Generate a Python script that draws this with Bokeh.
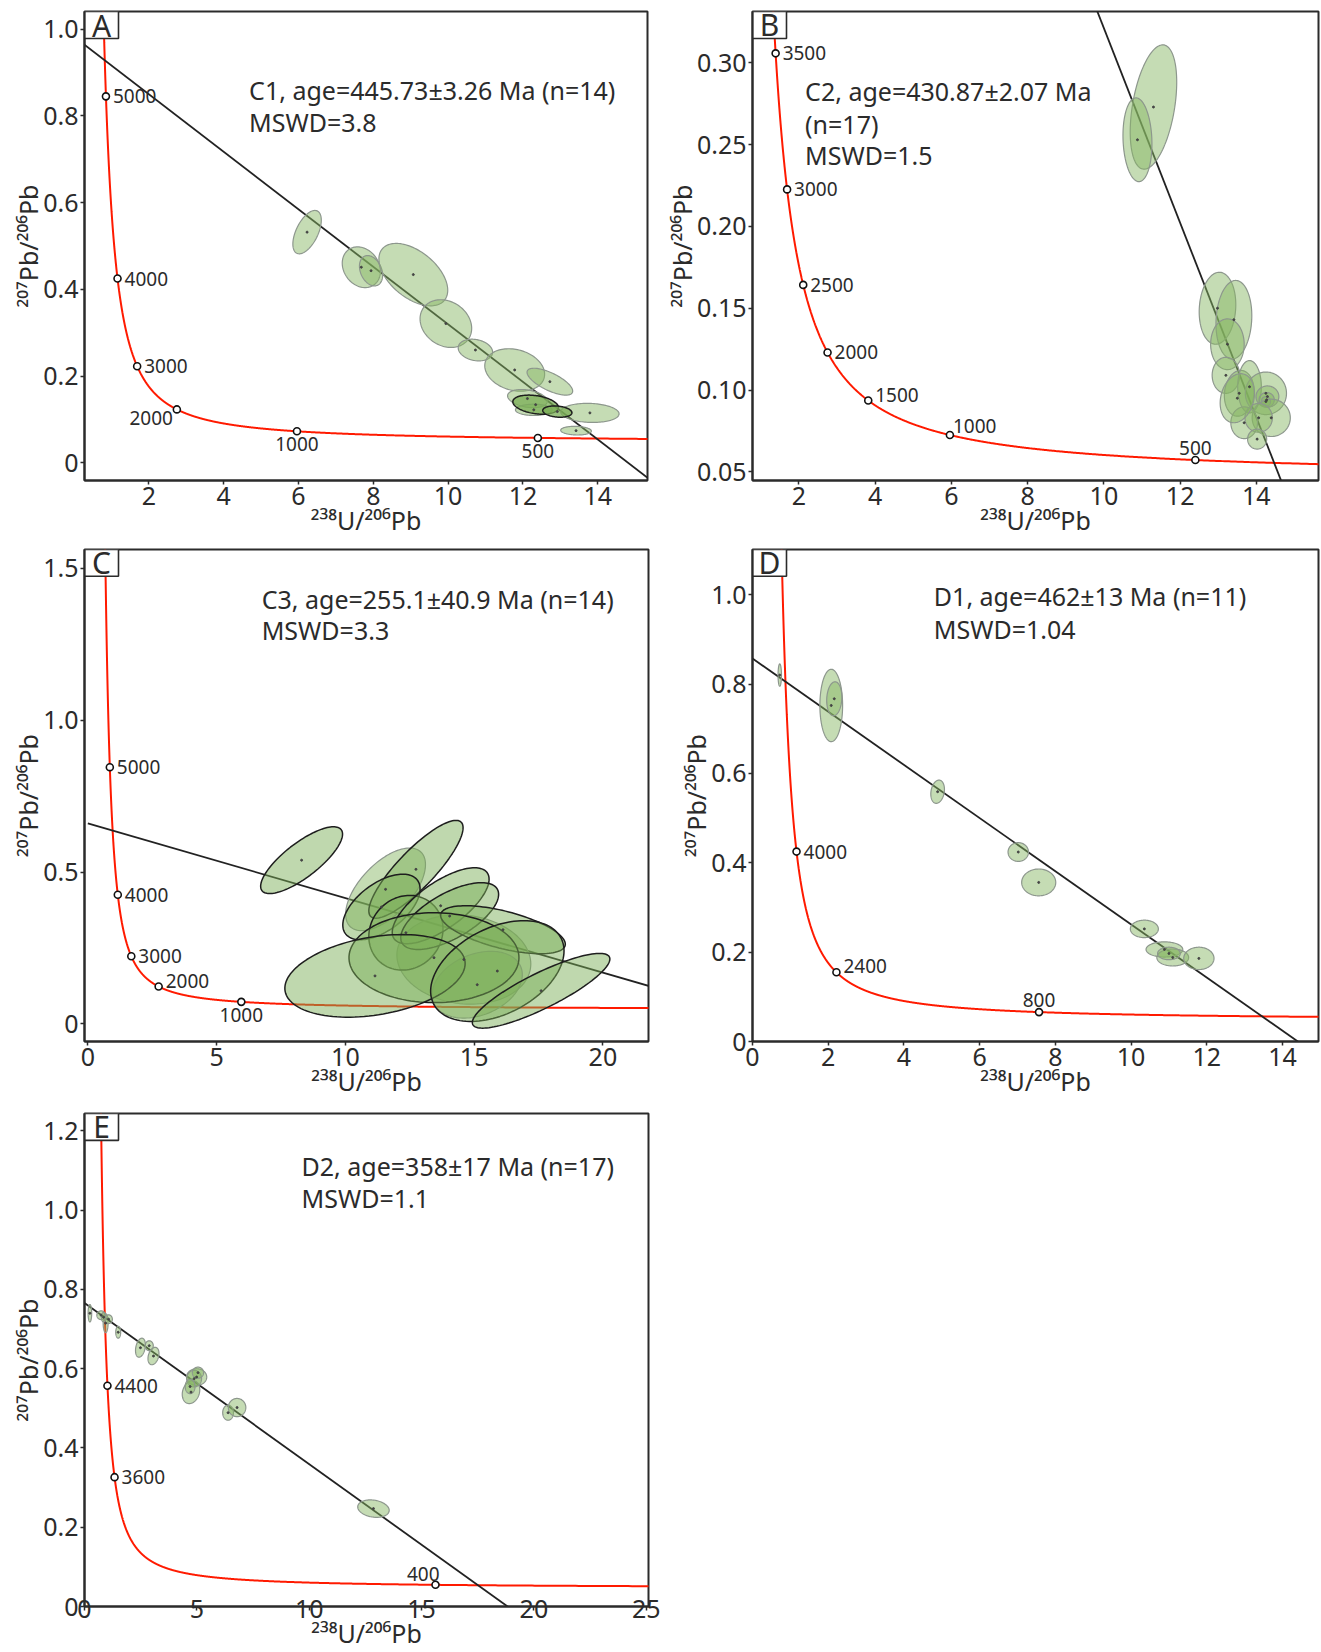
import numpy as np
from bokeh.plotting import figure
from bokeh.layouts import row, column
from bokeh.models import FixedTicker, ColumnDataSource
from bokeh.embed import file_html
from bokeh.resources import INLINE
from bokeh.core.properties import value

# Decay constants (per Myr) and present-day 238U/235U
LAMBDA_238 = 1.55125e-4
LAMBDA_235 = 9.8485e-4
U238_U235 = 137.88

# ---------------- Panel A : C1 ----------------
A_x = [6.23, 7.68, 7.94, 9.07, 9.94, 10.73, 11.78, 12.72, 12.12, 12.34, 12.29, 12.92, 13.79, 13.42]
A_y = [0.532, 0.451, 0.443, 0.434, 0.321, 0.260, 0.214, 0.187, 0.148, 0.134, 0.122, 0.118, 0.115, 0.074]
A_ex = [0.38, 0.51, 0.31, 0.92, 0.69, 0.46, 0.80, 0.61, 0.53, 0.61, 0.49, 0.39, 0.78, 0.41]
A_ey = [0.050, 0.047, 0.035, 0.072, 0.055, 0.025, 0.049, 0.031, 0.021, 0.022, 0.013, 0.013, 0.022, 0.010]
A_rho = [0.55, -0.2, -0.3, -0.5, -0.2, -0.2, -0.2, -0.7, -0.3, -0.3, 0.0, -0.2, -0.1, -0.1]
A_ages = [5000, 4000, 3000, 2000, 1000, 500]
A_age = 445.73
A_y0 = 0.983
A_text = ["C1, age=445.73±3.26 Ma (n=14)", "MSWD=3.8"]
A_xticks = [2, 4, 6, 8, 10, 12, 14]
A_xlabels = ["2", "4", "6", "8", "10", "12", "14"]
A_yticks = [0, 0.2, 0.4, 0.6, 0.8, 1.0]
A_ylabels = ["0", "0.2", "0.4", "0.6", "0.8", "1.0"]

# ---------------- Panel B : C2 ----------------
B_x = [11.30, 10.88, 12.98, 13.41, 13.24, 13.20, 13.55, 13.82, 14.25, 14.29, 14.27, 14.25, 14.39, 13.68, 14.06, 14.02, 13.50]
B_y = [0.273, 0.253, 0.150, 0.143, 0.128, 0.109, 0.098, 0.102, 0.098, 0.096, 0.094, 0.093, 0.083, 0.080, 0.083, 0.070, 0.095]
B_ex = [0.61, 0.38, 0.48, 0.47, 0.44, 0.36, 0.39, 0.31, 0.54, 0.30, 0.20, 0.12, 0.50, 0.35, 0.36, 0.25, 0.45]
B_ey = [0.038, 0.0256, 0.022, 0.024, 0.0155, 0.011, 0.014, 0.016, 0.013, 0.0065, 0.0045, 0.003, 0.0114, 0.0097, 0.0088, 0.0061, 0.015]
B_rho = [0.4, -0.1, 0.1, 0.1, 0.0, 0.0, 0.1, 0.0, 0.0, 0.0, 0.0, 0.0, 0.0, 0.0, 0.0, 0.0, 0.2]
B_ages = [3500, 3000, 2500, 2000, 1500, 1000, 500]
B_age = 430.87
B_y0 = 0.916
B_text = ["C2, age=430.87±2.07 Ma", "(n=17)", "MSWD=1.5"]
B_xticks = [2, 4, 6, 8, 10, 12, 14]
B_xlabels = ["2", "4", "6", "8", "10", "12", "14"]
B_yticks = [0.05, 0.10, 0.15, 0.20, 0.25, 0.30]
B_ylabels = ["0.05", "0.10", "0.15", "0.20", "0.25", "0.30"]

# ---------------- Panel C : C3 ----------------
C_x = [8.30, 12.74, 11.56, 11.40, 12.35, 13.70, 14.05, 16.12, 13.44, 14.60, 11.15, 15.90, 17.60, 15.12]
C_y = [0.539, 0.509, 0.443, 0.385, 0.300, 0.389, 0.355, 0.310, 0.218, 0.212, 0.158, 0.174, 0.109, 0.129]
C_ex = [1.59, 1.83, 1.55, 1.50, 1.44, 1.88, 1.90, 2.42, 3.30, 2.60, 3.50, 2.59, 2.67, 1.75]
C_ey = [0.110, 0.161, 0.136, 0.108, 0.123, 0.125, 0.110, 0.079, 0.148, 0.147, 0.136, 0.166, 0.123, 0.110]
C_rho = [0.78, 0.85, 0.6, 0.55, 0.1, 0.7, 0.65, -0.6, 0.0, -0.1, 0.3, 0.4, 0.85, 0.3]
C_ages = [5000, 4000, 3000, 2000, 1000]
C_age = 255.1
C_y0 = 0.660
C_text = ["C3, age=255.1±40.9 Ma (n=14)", "MSWD=3.3"]
C_xticks = [0, 5, 10, 15, 20]
C_xlabels = ["0", "5", "10", "15", "20"]
C_yticks = [0, 0.5, 1.0, 1.5]
C_ylabels = ["0", "0.5", "1.0", "1.5"]

# ---------------- Panel D : D1 ----------------
D_x = [0.72, 2.08, 2.16, 4.89, 7.02, 7.56, 10.35, 10.88, 11.10, 11.79, 11.00]
D_y = [0.820, 0.752, 0.767, 0.559, 0.424, 0.356, 0.252, 0.206, 0.188, 0.186, 0.197]
D_ex = [0.045, 0.30, 0.20, 0.18, 0.27, 0.45, 0.37, 0.485, 0.42, 0.40, 0.30]
D_ey = [0.025, 0.081, 0.038, 0.026, 0.021, 0.030, 0.0195, 0.017, 0.019, 0.025, 0.014]
D_rho = [0.0, 0.0, 0.1, 0.2, 0.0, 0.0, 0.0, 0.0, 0.0, 0.0, 0.0]
D_ages = [4000, 2400, 800]
D_age = 462
D_y0 = 0.857
D_text = ["D1, age=462±13 Ma (n=11)", "MSWD=1.04"]
D_xticks = [0, 2, 4, 6, 8, 10, 12, 14]
D_xlabels = ["0", "2", "4", "6", "8", "10", "12", "14"]
D_yticks = [0, 0.2, 0.4, 0.6, 0.8, 1.0]
D_ylabels = ["0", "0.2", "0.4", "0.6", "0.8", "1.0"]

# ---------------- Panel E : D2 ----------------
E_x = [0.24, 0.74, 0.94, 1.07, 1.50, 2.49, 2.88, 3.07, 4.99, 4.74, 4.88, 6.39, 6.79, 12.86, 5.05, 0.85, 4.70]
E_y = [0.740, 0.735, 0.715, 0.725, 0.692, 0.653, 0.658, 0.632, 0.579, 0.541, 0.575, 0.489, 0.502, 0.247, 0.590, 0.730, 0.555]
E_ex = [0.08, 0.19, 0.11, 0.17, 0.11, 0.22, 0.18, 0.245, 0.45, 0.39, 0.33, 0.24, 0.39, 0.70, 0.25, 0.10, 0.22]
E_ey = [0.022, 0.011, 0.024, 0.011, 0.015, 0.024, 0.0125, 0.022, 0.021, 0.029, 0.021, 0.019, 0.023, 0.022, 0.014, 0.012, 0.018]
E_rho = [0.0, 0.0, 0.0, 0.0, 0.0, 0.3, 0.0, 0.3, 0.0, 0.2, 0.0, 0.0, 0.0, -0.2, 0.0, 0.0, 0.0]
E_ages = [4400, 3600, 400]
E_age = 358
E_y0 = 0.766
E_text = ["D2, age=358±17 Ma (n=17)", "MSWD=1.1"]
E_xticks = [0, 5, 10, 15, 20, 25]
E_xlabels = ["0", "5", "10", "15", "20", "25"]
E_yticks = [0, 0.2, 0.4, 0.6, 0.8, 1.0, 1.2]
E_ylabels = ["0", "0.2", "0.4", "0.6", "0.8", "1.0", "1.2"]

FONT = "Noto Sans"
INK = "#2b2b2b"
XLABEL = "²³⁸U/²⁰⁶Pb"
YLABEL = "²⁰⁷Pb/²⁰⁶Pb"

# label placement: (align, baseline, dx px, dy px; dy > 0 is downward)
PLACE = {
    "r": ("left", "middle", 7, 0),
    "ra": ("left", "middle", 7, -6),
    "lb": ("right", "middle", -4, 9),
    "b": ("center", "top", 0, 6),
    "a": ("center", "bottom", 0, -5),
    "ar": ("left", "bottom", 3, -2),
    "al": ("right", "bottom", 4, -4),
}


def tera_wasserburg(t):
    t = np.asarray(t, dtype=float)
    d238 = np.expm1(LAMBDA_238 * t)
    d235 = np.expm1(LAMBDA_235 * t)
    return 1.0 / d238, d235 / d238 / U238_U235


def ellipse_outline(x, y, ex, ey, rho, n=120):
    th = np.linspace(0.0, 2.0 * np.pi, n)
    return (x + ex * np.cos(th),
            y + ey * (rho * np.cos(th) + np.sqrt(1.0 - rho ** 2) * np.sin(th)))


CONCORDIA_T = np.linspace(150.0, 6000.0, 3000)


def build(cfg):
    W, H = cfg["size"]
    bl, br, bt, bb = cfg["border"]
    x0, x1 = cfg["xr"]
    y0, y1 = cfg["yr"]
    fw, fh = W - bl - br, H - bt - bb
    xpu, ypu = fw / (x1 - x0), fh / (y1 - y0)

    p = figure(width=W, height=H, x_range=(x0, x1), y_range=(y0, y1),
               output_backend="svg", toolbar_location=None,
               min_border_left=bl, min_border_right=br,
               min_border_top=bt, min_border_bottom=bb,
               background_fill_color="white", border_fill_color="white")
    p.grid.visible = False
    p.outline_line_color = INK
    p.outline_line_width = 2
    p.outline_line_alpha = 1.0

    for ax, ticks, labels, title in ((p.xaxis[0], cfg["xt"], cfg["xl"], XLABEL),
                                     (p.yaxis[0], cfg["yt"], cfg["yl"], YLABEL)):
        ax.ticker = FixedTicker(ticks=ticks, minor_ticks=[])
        ax.major_label_overrides = {t: s for t, s in zip(ticks, labels)}
        ax.axis_line_color = INK
        ax.axis_line_width = 2
        ax.major_tick_line_color = INK
        ax.major_tick_line_width = 1.5
        ax.major_tick_in = 0
        ax.major_tick_out = 4
        ax.minor_tick_out = 0
        ax.minor_tick_in = 0
        ax.major_label_text_font = FONT
        ax.major_label_text_font_size = "25px"
        ax.major_label_text_color = INK
        ax.major_label_standoff = 2
        ax.axis_label = title
        ax.axis_label_text_font = FONT
        ax.axis_label_text_font_size = "25px"
        ax.axis_label_text_font_style = "normal"
        ax.axis_label_text_color = INK
        ax.axis_label_standoff = -5
    if cfg.get("xstandoff") is not None:
        p.xaxis[0].major_label_standoff = cfg["xstandoff"]

    # concordia
    cx, cy = tera_wasserburg(CONCORDIA_T)
    p.line(cx, cy, line_color="#ff1a00", line_width=2)

    # discordia through the common-Pb intercept and the lower-intercept age
    lx, ly = tera_wasserburg([cfg["age"]])
    slope = (ly[0] - cfg["y0"]) / lx[0]
    xfar = x1 + 2.0
    p.line([0.0, xfar], [cfg["y0"], cfg["y0"] + slope * xfar], line_color="#222222", line_width=1.8)

    # error ellipses
    xs, ys = [], []
    for x, y, ex, ey, r in zip(cfg["x"], cfg["y"], cfg["ex"], cfg["ey"], cfg["rho"]):
        ox, oy = ellipse_outline(x, y, ex, ey, r)
        xs.append(ox)
        ys.append(oy)
    dark = set(cfg.get("dark", []))
    light_idx = [i for i in range(len(xs)) if i not in dark]
    dark_idx = [i for i in range(len(xs)) if i in dark]
    if light_idx:
        p.patches([xs[i] for i in light_idx], [ys[i] for i in light_idx],
                  fill_color="#86b562", fill_alpha=0.48,
                  line_color="#8d978d", line_width=1.2)
    if dark_idx:
        p.patches([xs[i] for i in dark_idx], [ys[i] for i in dark_idx],
                  fill_color="#7aad55", fill_alpha=cfg.get("dark_alpha", 0.48),
                  line_color="#1e1e1e", line_width=1.5)
    p.scatter(cfg["x"], cfg["y"], size=2, color="#444444")

    # age ticks on the concordia
    mx, my = tera_wasserburg(cfg["ages"])
    p.scatter(mx, my, size=7, marker="circle", fill_color="white",
              line_color="#111111", line_width=1.6)
    aligns, bases, dxs, dys = [], [], [], []
    for code in cfg["place"]:
        a, b_, dx, dy = PLACE[code]
        aligns.append(a)
        bases.append(b_)
        dxs.append(dx)
        dys.append(dy)
    src = ColumnDataSource(dict(x=mx, y=my, t=[str(a) for a in cfg["ages"]],
                                al=aligns, bl=bases, dx=dxs, dy=dys))
    p.text(x="x", y="y", text="t", source=src, text_align="al", text_baseline="bl",
           x_offset="dx", y_offset="dy", text_font=value(FONT),
           text_font_size="19px", text_color=INK)

    # result text
    tx, ty = cfg["tpos"]
    p.text(x=[tx] * len(cfg["text"]), y=ty, text=cfg["text"], text_align="left",
           text_baseline="middle", text_font=value(FONT), text_font_size="25px",
           text_color=INK)

    # panel letter
    bw, bh = 34 / xpu, 27 / ypu
    p.quad(left=[x0], right=[x0 + bw], top=[y1], bottom=[y1 - bh],
           fill_color="white", line_color=INK, line_width=1.6)
    p.text(x=[x0 + bw / 2], y=[y1 - bh / 2], text=[cfg["letter"]], text_align="center",
           text_baseline="middle", text_font=value(FONT), text_font_size="30px",
           text_color=INK)
    return p


pa = build(dict(letter="A", size=(660, 540), border=(84, 13, 11, 60),
                xr=(0.28, 15.33), yr=(-0.041, 1.041),
                xt=A_xticks, xl=A_xlabels, yt=A_yticks, yl=A_ylabels,
                x=A_x, y=A_y, ex=A_ex, ey=A_ey, rho=A_rho, dark=[9, 11], dark_alpha=0.75,
                ages=A_ages, place=["r", "r", "r", "lb", "b", "b"],
                age=A_age, y0=A_y0, text=A_text, tpos=(4.68, [0.859, 0.785])))

pb = build(dict(letter="B", size=(661, 540), border=(92, 3, 11, 59),
                xr=(0.78, 15.63), yr=(0.0447, 0.3314),
                xt=B_xticks, xl=B_xlabels, yt=B_yticks, yl=B_ylabels,
                x=B_x, y=B_y, ex=B_ex, ey=B_ey, rho=B_rho,
                ages=B_ages, place=["r", "r", "r", "r", "ra", "ar", "a"],
                age=B_age, y0=B_y0, text=B_text, tpos=(2.16, [0.2825, 0.2625, 0.2436])))

pc = build(dict(letter="C", size=(660, 560), border=(84, 12, 9, 55),
                xr=(-0.13, 21.77), yr=(-0.058, 1.562),
                xt=C_xticks, xl=C_xlabels, yt=C_yticks, yl=C_ylabels,
                x=C_x, y=C_y, ex=C_ex, ey=C_ey, rho=C_rho,
                dark=[0, 1, 3, 4, 5, 6, 7, 8, 10, 11, 12],
                ages=C_ages, place=["r", "r", "r", "ra", "b"],
                age=C_age, y0=C_y0, text=C_text, tpos=(6.75, [1.40, 1.296])))

pd_ = build(dict(letter="D", size=(661, 560), border=(92, 3, 9, 54),
                 xr=(0.0, 14.95), yr=(0.0, 1.101),
                 xt=D_xticks, xl=D_xlabels, yt=D_yticks, yl=D_ylabels,
                 x=D_x, y=D_y, ex=D_ex, ey=D_ey, rho=D_rho,
                 ages=D_ages, place=["r", "ra", "a"],
                 age=D_age, y0=D_y0, text=D_text, tpos=(4.79, [0.996, 0.922])))

pe = build(dict(letter="E", size=(660, 552), border=(84, 12, 13, 43),
                xr=(0.0, 25.1), yr=(0.0, 1.244),
                xt=E_xticks, xl=E_xlabels, yt=E_yticks, yl=E_ylabels,
                x=E_x, y=E_y, ex=E_ex, ey=E_ey, rho=E_rho,
                ages=E_ages, place=["r", "r", "al"], xstandoff=-11,
                age=E_age, y0=E_y0, text=E_text, tpos=(9.66, [1.112, 1.030])))

layout = column(row(pa, pb), row(pc, pd_), row(pe))
open("out.html", "w").write(file_html(layout, INLINE))
